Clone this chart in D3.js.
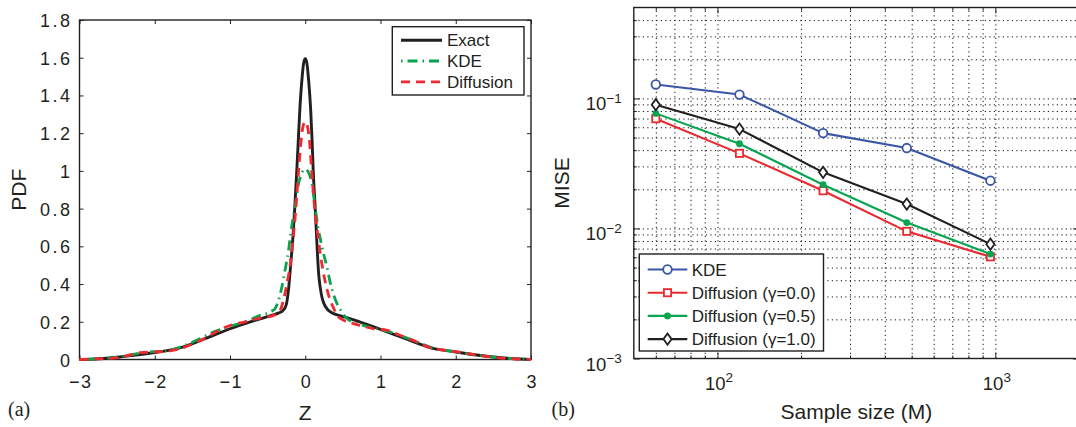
<!DOCTYPE html>
<html>
<head>
<meta charset="utf-8">
<script src="https://cdn.jsdelivr.net/npm/d3@7"></script>
<style>
html, body { margin: 0; padding: 0; background: #fff; }
svg { display: block; font-family: "Liberation Sans", Arial, Helvetica, sans-serif; }
</style>
</head>
<body>
<svg id="fig" width="1076" height="427"></svg>
<script>
// ---------- panel (a): density of Z ----------
const zTicks = [-3, -2, -1, 0, 1, 2, 3];
const pdfTicks = [0, 0.2, 0.4, 0.6, 0.8, 1, 1.2, 1.4, 1.6, 1.8];

const zExact = [-3, -2.75, -2.5, -2.25, -2, -1.667, -1.333, -1, -0.667, -0.45, -0.35, -0.3, -0.253, -0.22, -0.19,
  -0.167, -0.14, -0.114, -0.09, -0.07, -0.045, -0.02, 0, 0.02, 0.045, 0.07, 0.09, 0.107, 0.13, 0.153, 0.178,
  0.2, 0.222, 0.25, 0.289, 0.33, 0.378, 0.5, 0.75, 1, 1.333, 1.667, 2, 2.25, 2.5, 2.75, 3];
const pdfExact = [0, 0.004, 0.012, 0.023, 0.037, 0.062, 0.11, 0.163, 0.207, 0.234, 0.247, 0.258, 0.29, 0.38, 0.52,
  0.63, 0.8, 0.99, 1.18, 1.34, 1.48, 1.575, 1.595, 1.575, 1.48, 1.34, 1.17, 0.99, 0.82, 0.632, 0.455,
  0.38, 0.33, 0.295, 0.269, 0.254, 0.243, 0.228, 0.196, 0.16, 0.11, 0.062, 0.04, 0.025, 0.013, 0.005, 0];

const zKde = [-3, -2.75, -2.5, -2.25, -2.1, -1.9, -1.667, -1.4, -1.222, -1, -0.8, -0.6, -0.45, -0.4, -0.356, -0.311,
  -0.253, -0.222, -0.193, -0.136, -0.09, -0.045, 0, 0.045, 0.09, 0.13, 0.17, 0.2, 0.25, 0.289, 0.33, 0.38, 0.422,
  0.48, 0.556, 0.778, 1.09, 1.444, 1.667, 2, 2.25, 2.5, 2.75, 3];
const pdfKde = [0, 0.004, 0.013, 0.03, 0.04, 0.043, 0.065, 0.11, 0.145, 0.175, 0.2, 0.234, 0.255, 0.27, 0.313, 0.384,
  0.508, 0.579, 0.67, 0.81, 0.93, 0.99, 1.01, 0.99, 0.93, 0.81, 0.7, 0.64, 0.55, 0.49, 0.41, 0.34, 0.296,
  0.255, 0.216, 0.18, 0.15, 0.1, 0.065, 0.04, 0.025, 0.013, 0.005, 0];

const zDiff = [-3, -2.75, -2.5, -2.35, -2.2, -2, -1.8, -1.667, -1.5, -1.31, -1.1, -0.956, -0.8, -0.644, -0.5, -0.422,
  -0.35, -0.29, -0.244, -0.2, -0.167, -0.125, -0.092, -0.06, -0.03, 0, 0.03, 0.06, 0.085, 0.11, 0.14, 0.17, 0.2,
  0.244, 0.29, 0.333, 0.38, 0.422, 0.5, 0.644, 0.78, 0.911, 1.09, 1.25, 1.444, 1.667, 1.85, 2, 2.25, 2.5, 2.75, 3];
const pdfDiff = [0, 0.003, 0.009, 0.022, 0.036, 0.04, 0.046, 0.057, 0.082, 0.118, 0.165, 0.186, 0.2, 0.216, 0.226, 0.234,
  0.25, 0.313, 0.402, 0.5, 0.62, 0.8, 0.986, 1.14, 1.235, 1.26, 1.235, 1.14, 1.0, 0.87, 0.74, 0.65, 0.56,
  0.455, 0.37, 0.313, 0.27, 0.234, 0.21, 0.19, 0.175, 0.163, 0.155, 0.13, 0.1, 0.062, 0.05, 0.042, 0.026, 0.012, 0.004, 0];

const pdfSeriesNames = ["Exact", "KDE", "Diffusion"];

// ---------- panel (b): MISE against sample size ----------
const sampleSizes = [60, 120, 240, 480, 960];
const miseKde = [0.128, 0.107, 0.0541, 0.0415, 0.0233];
const miseDiff00 = [0.0698, 0.0378, 0.0195, 0.0095, 0.00605];
const miseDiff05 = [0.0767, 0.0448, 0.0217, 0.0111, 0.00635];
const miseDiff10 = [0.0894, 0.0581, 0.027, 0.0154, 0.00757];
const miseSeriesNames = ["KDE", "Diffusion (\u03b3=0.0)", "Diffusion (\u03b3=0.5)", "Diffusion (\u03b3=1.0)"];

const sizeMajorTicks = [100, 1000];
const sizeMinorTicks = [60, 70, 80, 90, 200, 300, 400, 500, 600, 700, 800, 900, 2000];
const sizeGridTicks = [60, 70, 80, 90, 100, 200, 300, 400, 500, 600, 700, 800, 900, 1000];
const miseMajorTicks = [0.001, 0.01, 0.1];
const miseMinorTicks = [0.002, 0.003, 0.004, 0.005, 0.006, 0.007, 0.008, 0.009,
  0.02, 0.03, 0.04, 0.05, 0.06, 0.07, 0.08, 0.09, 0.2, 0.3, 0.4];
const miseGridTicks = miseMinorTicks.concat([0.01, 0.1]);

// ---------- drawing ----------
const ink = "#231f20";
const svg = d3.select("#fig");
const minus = s => String(s).replace("-", "\u2212");

function styleAxis(g) {
  g.attr("font-family", null).attr("font-size", null).attr("fill", null);
  g.select(".domain").remove();
  g.selectAll(".tick line").attr("stroke", ink).attr("stroke-width", 1);
  g.selectAll(".tick text").attr("fill", ink);
}

// ===== panel (a) =====
const xA = d3.scaleLinear().domain([-3, 3]).range([79.5, 531]);
const yA = d3.scaleLinear().domain([0, 1.8]).range([359.5, 20]);
const gA = svg.append("g");

gA.append("rect")
  .attr("x", xA(-3)).attr("y", yA(1.8))
  .attr("width", xA(3) - xA(-3)).attr("height", yA(0) - yA(1.8))
  .attr("fill", "none").attr("stroke", ink).attr("stroke-width", 1.4);

const axA_b = gA.append("g").attr("transform", `translate(0,${yA(0)})`)
  .call(d3.axisBottom(xA).tickValues(zTicks).tickSizeInner(-4).tickSizeOuter(0).tickFormat(d => minus(d)));
styleAxis(axA_b);
axA_b.selectAll(".tick text").attr("y", 28).attr("dy", null)
  .attr("font-size", 18).attr("letter-spacing", 1.5).attr("dx", 0.75);

const axA_l = gA.append("g").attr("transform", `translate(${xA(-3)},0)`)
  .call(d3.axisLeft(yA).tickValues(pdfTicks).tickSizeInner(-4).tickSizeOuter(0).tickFormat(d => String(d)));
styleAxis(axA_l);
axA_l.selectAll(".tick text").attr("x", -7).attr("dy", null).attr("y", 6.5)
  .attr("font-size", 18).attr("letter-spacing", 2.5);

const axA_t = gA.append("g").attr("transform", `translate(0,${yA(1.8)})`)
  .call(d3.axisTop(xA).tickValues(zTicks).tickSizeInner(-4).tickSizeOuter(0).tickFormat(""));
styleAxis(axA_t);
const axA_r = gA.append("g").attr("transform", `translate(${xA(3)},0)`)
  .call(d3.axisRight(yA).tickValues(pdfTicks).tickSizeInner(-4).tickSizeOuter(0).tickFormat(""));
styleAxis(axA_r);

const pdfLine = d3.line().x(d => xA(d[0])).y(d => yA(d[1])).curve(d3.curveMonotoneX);
const pdfStyles = [
  { color: ink, dash: null, width: 2.9 },
  { color: "#0aa24c", dash: "1.5,5,10,5", width: 2.8 },
  { color: "#ee2a30", dash: "9,6", width: 2.8 }
];
const pdfData = [d3.zip(zExact, pdfExact), d3.zip(zKde, pdfKde), d3.zip(zDiff, pdfDiff)];
pdfData.forEach((pts, i) => {
  gA.append("path").datum(pts)
    .attr("d", pdfLine)
    .attr("fill", "none")
    .attr("stroke", pdfStyles[i].color)
    .attr("stroke-width", pdfStyles[i].width)
    .attr("stroke-dasharray", pdfStyles[i].dash)
    .attr("stroke-linejoin", "round");
});

// legend (a)
const legA = gA.append("g");
legA.append("rect").attr("x", 392.3).attr("y", 26.7).attr("width", 131.7).attr("height", 68.3)
  .attr("fill", "#fff").attr("stroke", ink).attr("stroke-width", 1.4);
pdfSeriesNames.forEach((name, i) => {
  const y = 40.2 + i * 20.8;
  legA.append("line").attr("x1", 401).attr("x2", 442).attr("y1", y).attr("y2", y)
    .attr("stroke", pdfStyles[i].color).attr("stroke-width", pdfStyles[i].width)
    .attr("stroke-dasharray", pdfStyles[i].dash);
  legA.append("text").attr("x", 447).attr("y", y + 6.2).attr("font-size", 17).attr("fill", ink).text(name);
});

gA.append("text").attr("transform", `translate(26,${(yA(0) + yA(1.8)) / 2}) rotate(-90)`)
  .attr("text-anchor", "middle").attr("font-size", 21).attr("fill", ink).text("PDF");
gA.append("text").attr("x", (xA(-3) + xA(3)) / 2).attr("y", 420)
  .attr("text-anchor", "middle").attr("font-size", 21).attr("fill", ink).text("Z");
gA.append("text").attr("x", 8).attr("y", 416).attr("font-family", "'Liberation Serif', 'Times New Roman', serif")
  .attr("font-size", 20).attr("fill", ink).text("(a)");

// ===== panel (b) =====
const xB = d3.scaleLog().domain([50, 2000]).range([633.8, 1079]);
const yB = d3.scaleLog().domain([0.001, 0.5]).range([358.5, 7.5]);
const gB = svg.append("g");
const plotH = yB(0.001) - yB(0.5);
const plotW = xB(2000) - xB(50);

// dotted grid
const gridV = gB.append("g").attr("transform", `translate(0,${yB(0.001)})`)
  .call(d3.axisBottom(xB).tickValues(sizeGridTicks).tickSizeInner(-plotH).tickSizeOuter(0).tickFormat(""));
styleAxis(gridV);
gridV.selectAll(".tick line").attr("stroke", "#111").attr("stroke-width", 1).attr("stroke-dasharray", "1.2,3.3");
const gridH = gB.append("g").attr("transform", `translate(${xB(50)},0)`)
  .call(d3.axisLeft(yB).tickValues(miseGridTicks).tickSizeInner(-plotW).tickSizeOuter(0).tickFormat(""));
styleAxis(gridH);
gridH.selectAll(".tick line").attr("stroke", "#111").attr("stroke-width", 1).attr("stroke-dasharray", "1.2,3.3");

gB.append("rect")
  .attr("x", xB(50)).attr("y", yB(0.5))
  .attr("width", plotW).attr("height", plotH)
  .attr("fill", "none").attr("stroke", ink).attr("stroke-width", 1.4);

function expLabel(sel) {
  sel.each(function (d) {
    const t = d3.select(this);
    t.text(null);
    t.append("tspan").text("10");
    t.append("tspan").attr("dy", -7.8).attr("font-size", 13.5).text(minus(Math.round(Math.log10(d))));
  });
}

// major / minor ticks on all four sides
const sides = [
  { ax: d3.axisBottom, pos: `translate(0,${yB(0.001)})`, scale: xB, major: sizeMajorTicks, minor: sizeMinorTicks, lab: true },
  { ax: d3.axisTop, pos: `translate(0,${yB(0.5)})`, scale: xB, major: sizeMajorTicks, minor: sizeMinorTicks, lab: false },
  { ax: d3.axisLeft, pos: `translate(${xB(50)},0)`, scale: yB, major: miseMajorTicks, minor: miseMinorTicks, lab: true },
  { ax: d3.axisRight, pos: `translate(${xB(2000)},0)`, scale: yB, major: miseMajorTicks, minor: miseMinorTicks, lab: false }
];
sides.forEach(s => {
  const gmin = gB.append("g").attr("transform", s.pos)
    .call(s.ax(s.scale).tickValues(s.minor).tickSizeInner(-3).tickSizeOuter(0).tickFormat(""));
  styleAxis(gmin);
  const gmaj = gB.append("g").attr("transform", s.pos)
    .call(s.ax(s.scale).tickValues(s.major).tickSizeInner(-6).tickSizeOuter(0).tickFormat(s.lab ? (d => "10") : ""));
  styleAxis(gmaj);
  if (s.lab) {
    const txt = gmaj.selectAll(".tick text").attr("font-size", 18.5).attr("dy", null);
    if (s.ax === d3.axisBottom) txt.attr("y", 31.5).attr("x", 1);
    else txt.attr("x", -12).attr("y", 11.5);
    expLabel(txt);
  }
});

// series lines and markers
const miseSeries = [miseKde, miseDiff00, miseDiff05, miseDiff10];
const miseColors = ["#3a56a6", "#ea2a2f", "#07a550", ink];
const miseMarkers = ["circle", "square", "dot", "diamond"];
const miseLine = d3.line().x(d => xB(d[0])).y(d => yB(d[1]));

function drawMarker(g, kind, cx, cy, color) {
  if (kind === "circle") {
    g.append("circle").attr("cx", cx).attr("cy", cy).attr("r", 4.3)
      .attr("fill", "#fff").attr("stroke", color).attr("stroke-width", 1.8);
  } else if (kind === "square") {
    g.append("rect").attr("x", cx - 3.6).attr("y", cy - 3.6).attr("width", 7.2).attr("height", 7.2)
      .attr("fill", "#fff").attr("stroke", color).attr("stroke-width", 1.8);
  } else if (kind === "dot") {
    g.append("circle").attr("cx", cx).attr("cy", cy).attr("r", 3.4).attr("fill", color);
  } else {
    const p = d3.path();
    p.moveTo(cx, cy - 5.6); p.lineTo(cx + 4.1, cy); p.lineTo(cx, cy + 5.6); p.lineTo(cx - 4.1, cy); p.closePath();
    g.append("path").attr("d", p.toString()).attr("fill", "#fff").attr("stroke", color).attr("stroke-width", 1.8);
  }
}

miseSeries.forEach((vals, i) => {
  const pts = d3.zip(sampleSizes, vals);
  gB.append("path").datum(pts).attr("d", miseLine)
    .attr("fill", "none").attr("stroke", miseColors[i]).attr("stroke-width", 2.1).attr("stroke-linejoin", "round");
  const gm = gB.append("g");
  pts.forEach(p => drawMarker(gm, miseMarkers[i], xB(p[0]), yB(p[1]), miseColors[i]));
});

// legend (b)
const legB = gB.append("g");
legB.append("rect").attr("x", 639.3).attr("y", 254).attr("width", 184.2).attr("height", 97)
  .attr("fill", "#fff").attr("stroke", ink).attr("stroke-width", 1.4);
miseSeriesNames.forEach((name, i) => {
  const y = 269.5 + i * 23.2;
  legB.append("line").attr("x1", 647.7).attr("x2", 687.3).attr("y1", y).attr("y2", y)
    .attr("stroke", miseColors[i]).attr("stroke-width", 2.1);
  drawMarker(legB, miseMarkers[i], 667.5, y, miseColors[i]);
  legB.append("text").attr("x", 691.7).attr("y", y + 6.2).attr("font-size", 17).attr("fill", ink).text(name);
});

gB.append("text").attr("transform", `translate(569,${(yB(0.001) + yB(0.5)) / 2}) rotate(-90)`)
  .attr("text-anchor", "middle").attr("font-size", 21).attr("fill", ink).text("MISE");
gB.append("text").attr("x", (xB(50) + xB(2000)) / 2).attr("y", 419)
  .attr("text-anchor", "middle").attr("font-size", 21).attr("fill", ink).text("Sample size (M)");
gB.append("text").attr("x", 551.5).attr("y", 416).attr("font-family", "'Liberation Serif', 'Times New Roman', serif")
  .attr("font-size", 20).attr("fill", ink).text("(b)");
</script>
</body>
</html>
